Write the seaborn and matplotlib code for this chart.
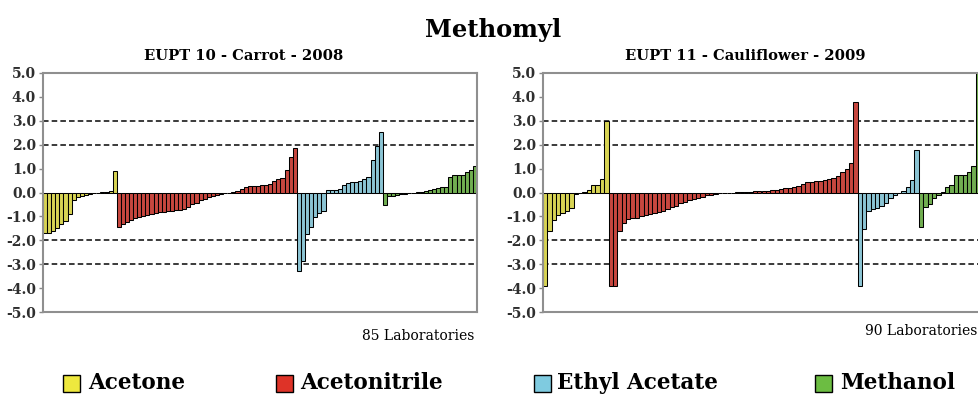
import numpy as np
import pandas as pd
import matplotlib
matplotlib.use("Agg")
import matplotlib.pyplot as plt
import seaborn as sns
from matplotlib.patches import Rectangle

# ---------------- data ----------------
solvents = ["Acetone", "Acetonitrile", "Ethyl Acetate", "Methanol"]
colors = ["#EEE83E", "#DE3328", "#7FCBE0", "#6CBD42"]

left_title = "EUPT 10 - Carrot - 2008"
left_labs = "85 Laboratories"
left_acetone = [-1.68, -1.68, -1.6, -1.47, -1.33, -1.19, -0.9, -0.33, -0.19, -0.13,
                -0.09, -0.07, -0.04, 0.0, 0.02, 0.04, 0.05, 0.88]
left_acetonitrile = [-1.46, -1.3, -1.22, -1.15, -1.08, -1.02, -0.97, -0.93, -0.9, -0.87,
                     -0.83, -0.8, -0.78, -0.76, -0.74, -0.72, -0.7, -0.62, -0.47, -0.42,
                     -0.32, -0.28, -0.2, -0.15, -0.1, -0.06, -0.03, -0.01, 0.02, 0.08,
                     0.15, 0.24, 0.26, 0.27, 0.28, 0.3, 0.32, 0.35, 0.5, 0.55,
                     0.6, 0.95, 1.5, 1.85]
left_ethyl = [-3.3, -2.88, -1.75, -1.45, -1.02, -0.87, -0.78, 0.1, 0.12, 0.12,
              0.15, 0.3, 0.38, 0.42, 0.45, 0.5, 0.55, 0.65, 1.35, 1.95, 2.53]
left_methanol = [-0.52, -0.13, -0.13, -0.12, -0.08, -0.05, -0.03, 0.0, 0.02, 0.04,
                 0.08, 0.12, 0.14, 0.2, 0.22, 0.22, 0.64, 0.74, 0.75, 0.75,
                 0.85, 0.96, 1.1]

right_title = "EUPT 11 - Cauliflower - 2009"
right_labs = "90 Laboratories"
right_acetone = [-3.9, -1.6, -1.15, -0.95, -0.85, -0.77, -0.65, -0.05, 0.0, 0.03,
                 0.12, 0.3, 0.32, 0.56, 3.0]
right_acetonitrile = [-3.9, -3.9, -1.6, -1.27, -1.12, -1.08, -1.05, -1.0, -0.95, -0.9,
                      -0.85, -0.82, -0.78, -0.7, -0.62, -0.55, -0.45, -0.38, -0.32, -0.27,
                      -0.22, -0.18, -0.12, -0.09, -0.06, -0.04, -0.02, -0.01, 0.0, 0.01,
                      0.02, 0.03, 0.04, 0.05, 0.06, 0.07, 0.08, 0.1, 0.12, 0.14,
                      0.17, 0.2, 0.24, 0.28, 0.35, 0.42, 0.45, 0.48, 0.5, 0.52,
                      0.55, 0.6, 0.7, 0.85, 0.97, 1.22, 3.79]
right_ethyl = [-3.9, -1.51, -0.77, -0.7, -0.66, -0.58, -0.45, -0.25, -0.1, -0.03,
               0.05, 0.25, 0.51, 1.78]
right_methanol = [-1.44, -0.62, -0.5, -0.25, -0.1, 0.02, 0.25, 0.3, 0.72, 0.72,
                  0.75, 0.85, 1.1, 5.0]

y_ticks = [5.0, 4.0, 3.0, 2.0, 1.0, 0.0, -1.0, -2.0, -3.0, -4.0, -5.0]
y_tick_labels = ["5.0", "4.0", "3.0", "2.0", "1.0", "0.0",
                 "-1.0", "-2.0", "-3.0", "-4.0", "-5.0"]
dashed_levels = [3.0, 2.0, -2.0, -3.0]
main_title = "Methomyl"

# ---------------- style ----------------
sns.set_style("white")
plt.rcParams["font.family"] = ["DejaVu Serif"]
plt.rcParams["axes.unicode_minus"] = False
plt.rcParams["text.color"] = "black"

W, H = 979, 395
fig = plt.figure(figsize=(W / 100, H / 100), dpi=100)
palette = dict(zip(solvents, colors))


def make_df(groups):
    rows = []
    for name, vals in zip(solvents, groups):
        for v in vals:
            rows.append((name, v))
    df = pd.DataFrame(rows, columns=["solvent", "value"])
    df["lab"] = np.arange(len(df))
    return df


def draw(rect, groups):
    ax = fig.add_axes(rect)
    df = make_df(groups)
    for y in dashed_levels:
        ax.axhline(y, color="#222222", lw=1.25, ls=(0, (3.2, 1.8)), zorder=0.5)
    sns.barplot(data=df, x="lab", y="value", hue="solvent", palette=palette,
                hue_order=solvents, order=list(df["lab"]), dodge=False, width=1.0,
                errorbar=None, edgecolor="black", linewidth=0.75, legend=False, ax=ax)
    ax.set_xlim(-0.5, len(df) - 0.5)
    ax.set_ylim(-5, 5)
    ax.set_xticks([])
    ax.set_xlabel("")
    ax.set_ylabel("")
    ax.set_yticks(y_ticks)
    ax.set_yticklabels(y_tick_labels, fontsize=10, fontweight="bold", color="#2e2e2e")
    ax.tick_params(axis="y", left=True, length=3, width=1, color="#888888", pad=2)
    for s in ax.spines.values():
        s.set_color("#8f8f8f")
        s.set_linewidth(1.5)
    return ax


bottom = 1 - 312 / H
height = (312 - 73) / H
axl = draw([43 / W, bottom, (477 - 43) / W, height],
           [left_acetone, left_acetonitrile, left_ethyl, left_methanol])
axr = draw([543 / W, bottom, (980 - 543) / W, height],
           [right_acetone, right_acetonitrile, right_ethyl, right_methanol])

fig.text(493 / W, 1 - 30 / H, main_title, ha="center", va="center",
         fontsize=17.5, fontweight="bold")
fig.text(244 / W, 1 - 56 / H, left_title, ha="center", va="center",
         fontsize=10.6, fontweight="bold")
fig.text(745 / W, 1 - 56 / H, right_title, ha="center", va="center",
         fontsize=10.6, fontweight="bold")
fig.text(474 / W, 1 - 336 / H, left_labs, ha="right", va="center", fontsize=10)
fig.text(977 / W, 1 - 331 / H, right_labs, ha="right", va="center", fontsize=10)

# legend
sq_x = [63, 276, 534, 815]
tx_x = [88, 300, 557, 840]
for name, col, sx, tx in zip(solvents, colors, sq_x, tx_x):
    fig.add_artist(Rectangle((sx / W, 1 - 392 / H), 17 / W, 17 / H,
                             transform=fig.transFigure, facecolor=col,
                             edgecolor="black", lw=1.0))
    fig.text(tx / W, 1 - 383 / H, name, ha="left", va="center",
             fontsize=15.5, fontweight="bold")

fig.savefig("out.png", dpi=100)
